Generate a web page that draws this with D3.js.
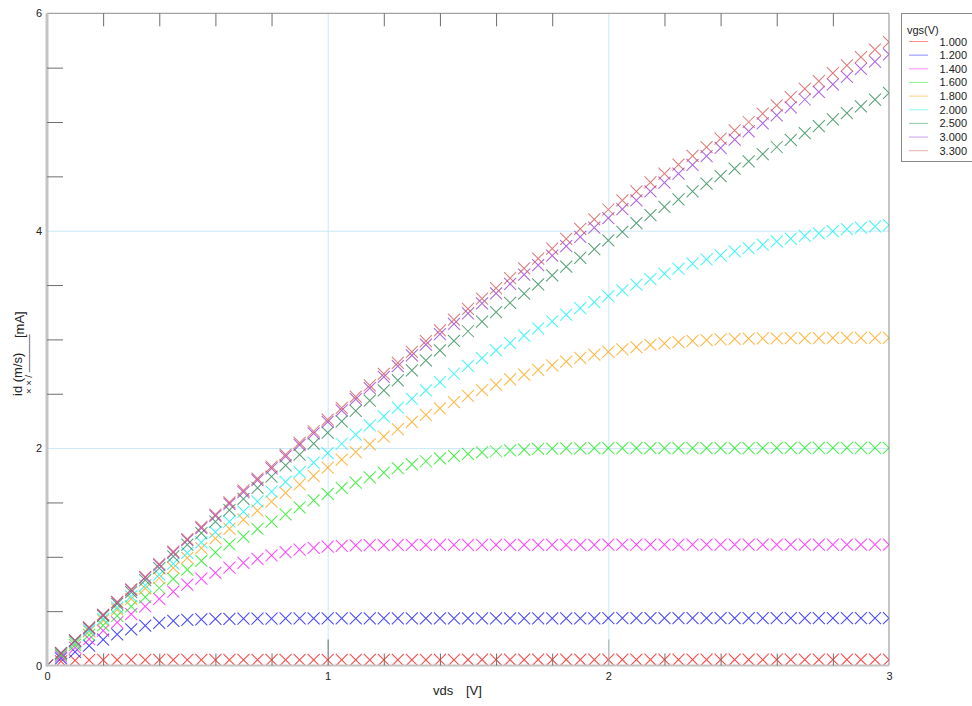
<!DOCTYPE html>
<html>
<head>
<meta charset="utf-8">
<script src="https://cdn.jsdelivr.net/npm/d3@7/dist/d3.min.js"></script>
<style>
  html, body { margin: 0; padding: 0; background: #fff; }
  svg { display: block; font-family: "Liberation Sans", Arial, sans-serif; }
</style>
</head>
<body>
<svg id="chart" width="972" height="706"></svg>
<script>
// Drain-source sweep (V)
const vds = [
  0.00, 0.05, 0.10, 0.15, 0.20, 0.25, 0.30, 0.35, 0.40, 0.45,
  0.50, 0.55, 0.60, 0.65, 0.70, 0.75, 0.80, 0.85, 0.90, 0.95,
  1.00, 1.05, 1.10, 1.15, 1.20, 1.25, 1.30, 1.35, 1.40, 1.45,
  1.50, 1.55, 1.60, 1.65, 1.70, 1.75, 1.80, 1.85, 1.90, 1.95,
  2.00, 2.05, 2.10, 2.15, 2.20, 2.25, 2.30, 2.35, 2.40, 2.45,
  2.50, 2.55, 2.60, 2.65, 2.70, 2.75, 2.80, 2.85, 2.90, 2.95,
  3.00
];

// Gate-source voltages (legend labels)
const vgsLabels = ["1.000", "1.200", "1.400", "1.600", "1.800", "2.000", "2.500", "3.000", "3.300"];

// Drain current per gate voltage (mA)
const id_1000 = [
  0, 0.038, 0.047, 0.050, 0.051, 0.052, 0.052, 0.052, 0.052, 0.052,
  0.052, 0.052, 0.052, 0.052, 0.052, 0.052, 0.052, 0.052, 0.052, 0.052,
  0.052, 0.052, 0.052, 0.052, 0.052, 0.052, 0.052, 0.052, 0.052, 0.052,
  0.053, 0.053, 0.053, 0.053, 0.053, 0.053, 0.053, 0.053, 0.053, 0.053,
  0.053, 0.053, 0.053, 0.053, 0.053, 0.053, 0.053, 0.053, 0.053, 0.053,
  0.053, 0.053, 0.053, 0.053, 0.053, 0.053, 0.053, 0.053, 0.053, 0.053,
  0.053
];
const id_1200 = [
  0, 0.065, 0.125, 0.183, 0.237, 0.287, 0.332, 0.367, 0.393, 0.410,
  0.420, 0.425, 0.428, 0.430, 0.431, 0.432, 0.432, 0.433, 0.433, 0.433,
  0.434, 0.434, 0.434, 0.434, 0.434, 0.434, 0.434, 0.434, 0.434, 0.434,
  0.434, 0.434, 0.434, 0.434, 0.434, 0.434, 0.434, 0.434, 0.434, 0.434,
  0.435, 0.435, 0.435, 0.435, 0.435, 0.435, 0.435, 0.435, 0.435, 0.435,
  0.435, 0.435, 0.435, 0.435, 0.435, 0.435, 0.435, 0.435, 0.435, 0.435,
  0.435
];
const id_1400 = [
  0, 0.083, 0.164, 0.243, 0.320, 0.397, 0.472, 0.543, 0.612, 0.680,
  0.743, 0.800, 0.853, 0.900, 0.944, 0.982, 1.014, 1.042, 1.065, 1.082,
  1.094, 1.101, 1.105, 1.107, 1.108, 1.109, 1.110, 1.110, 1.110, 1.110,
  1.110, 1.110, 1.110, 1.110, 1.110, 1.110, 1.110, 1.110, 1.110, 1.110,
  1.111, 1.111, 1.111, 1.111, 1.111, 1.111, 1.111, 1.111, 1.111, 1.111,
  1.111, 1.111, 1.111, 1.111, 1.111, 1.111, 1.111, 1.111, 1.111, 1.111,
  1.111
];
const id_1600 = [
  0, 0.096, 0.190, 0.281, 0.370, 0.456, 0.543, 0.629, 0.713, 0.797,
  0.882, 0.962, 1.040, 1.114, 1.186, 1.256, 1.324, 1.390, 1.455, 1.518,
  1.580, 1.635, 1.683, 1.731, 1.774, 1.815, 1.850, 1.879, 1.905, 1.928,
  1.946, 1.960, 1.971, 1.980, 1.987, 1.992, 1.995, 1.997, 1.998, 1.999,
  2.000, 2.000, 2.000, 2.000, 2.000, 2.000, 2.000, 2.000, 2.000, 2.000,
  2.000, 2.000, 2.001, 2.001, 2.001, 2.001, 2.002, 2.002, 2.002, 2.002,
  2.002
];
const id_1800 = [
  0, 0.106, 0.211, 0.314, 0.415, 0.515, 0.613, 0.710, 0.805, 0.898,
  0.990, 1.080, 1.169, 1.256, 1.341, 1.425, 1.507, 1.588, 1.667, 1.744,
  1.820, 1.893, 1.963, 2.034, 2.105, 2.175, 2.242, 2.305, 2.366, 2.424,
  2.480, 2.534, 2.585, 2.632, 2.677, 2.720, 2.760, 2.796, 2.830, 2.859,
  2.885, 2.909, 2.930, 2.949, 2.964, 2.976, 2.986, 2.994, 3.000, 3.004,
  3.007, 3.009, 3.010, 3.011, 3.012, 3.012, 3.013, 3.013, 3.014, 3.014,
  3.015
];
const id_2000 = [
  0, 0.109, 0.216, 0.323, 0.428, 0.532, 0.635, 0.737, 0.837, 0.937,
  1.035, 1.132, 1.228, 1.323, 1.416, 1.509, 1.600, 1.690, 1.779, 1.867,
  1.954, 2.040, 2.123, 2.208, 2.291, 2.373, 2.452, 2.531, 2.607, 2.684,
  2.757, 2.828, 2.899, 2.966, 3.035, 3.102, 3.165, 3.227, 3.287, 3.343,
  3.397, 3.451, 3.503, 3.555, 3.604, 3.650, 3.696, 3.736, 3.773, 3.810,
  3.840, 3.871, 3.901, 3.926, 3.953, 3.975, 3.997, 4.015, 4.028, 4.040,
  4.052
];
const id_2500 = [
  0, 0.113, 0.228, 0.342, 0.456, 0.567, 0.676, 0.786, 0.896, 1.005,
  1.113, 1.218, 1.324, 1.429, 1.532, 1.635, 1.738, 1.841, 1.941, 2.042,
  2.142, 2.245, 2.342, 2.436, 2.530, 2.622, 2.716, 2.808, 2.900, 2.987,
  3.075, 3.163, 3.252, 3.337, 3.421, 3.506, 3.589, 3.670, 3.751, 3.830,
  3.910, 3.989, 4.069, 4.144, 4.219, 4.289, 4.361, 4.433, 4.503, 4.571,
  4.638, 4.705, 4.770, 4.835, 4.898, 4.962, 5.024, 5.082, 5.143, 5.206,
  5.267
];
const id_3000 = [
  0, 0.114, 0.230, 0.347, 0.464, 0.580, 0.694, 0.809, 0.924, 1.039,
  1.153, 1.264, 1.376, 1.487, 1.596, 1.705, 1.814, 1.923, 2.029, 2.136,
  2.242, 2.348, 2.450, 2.552, 2.655, 2.754, 2.854, 2.951, 3.048, 3.143,
  3.240, 3.332, 3.424, 3.511, 3.597, 3.684, 3.770, 3.857, 3.944, 4.029,
  4.115, 4.198, 4.280, 4.362, 4.443, 4.524, 4.605, 4.685, 4.762, 4.838,
  4.913, 4.988, 5.062, 5.135, 5.207, 5.277, 5.347, 5.416, 5.488, 5.556,
  5.623
];
const id_3300 = [
  0, 0.115, 0.232, 0.350, 0.468, 0.585, 0.700, 0.816, 0.932, 1.048,
  1.163, 1.275, 1.388, 1.500, 1.610, 1.720, 1.830, 1.940, 2.047, 2.155,
  2.262, 2.370, 2.474, 2.578, 2.683, 2.784, 2.886, 2.985, 3.084, 3.181,
  3.280, 3.376, 3.472, 3.563, 3.653, 3.744, 3.834, 3.925, 4.016, 4.105,
  4.195, 4.279, 4.362, 4.444, 4.526, 4.607, 4.689, 4.769, 4.847, 4.924,
  5.000, 5.077, 5.153, 5.229, 5.304, 5.377, 5.450, 5.522, 5.596, 5.666,
  5.735
];

const seriesValues = [id_1000, id_1200, id_1400, id_1600, id_1800, id_2000, id_2500, id_3000, id_3300];
const seriesColors = ["#ff1a1a", "#1a1aff", "#ff1aff", "#1aee1a", "#ffa514", "#14f4f4", "#2e8b57", "#9a3fd6", "#d45a5a"];

const xTickLabels = [0, 1, 2, 3];
const yTickLabels = [0, 2, 4, 6];

const svg = d3.select("#chart");
const W = 972, H = 706;
const plotLeft = 47, plotRight = 889, plotTop = 13.3, plotBottom = 665.5;

const x = d3.scaleLinear().domain([0, 3]).range([plotLeft, plotRight]);
const y = d3.scaleLinear().domain([0, 6]).range([plotBottom, plotTop]);

svg.append("rect").attr("width", W).attr("height", H).attr("fill", "#fff");

// grid lines at major values
const gridColor = "#c9e7f7";
svg.append("g")
  .attr("transform", `translate(0,${plotBottom})`)
  .call(d3.axisBottom(x).tickValues([1, 2]).tickSize(-(plotBottom - plotTop)).tickFormat(""))
  .call(g => g.select(".domain").remove())
  .call(g => g.selectAll("line").attr("stroke", gridColor).attr("stroke-width", 1));
svg.append("g")
  .attr("transform", `translate(${plotLeft},0)`)
  .call(d3.axisLeft(y).tickValues([2, 4]).tickSize(-(plotRight - plotLeft)).tickFormat(""))
  .call(g => g.select(".domain").remove())
  .call(g => g.selectAll("line").attr("stroke", gridColor).attr("stroke-width", 1));

// markers, clipped to the plot frame
svg.append("clipPath").attr("id", "plotClip")
  .append("rect").attr("x", plotLeft).attr("y", plotTop)
  .attr("width", plotRight - plotLeft).attr("height", plotBottom - plotTop);

const cross = "M-6,-6L6,6M-6,6L6,-6";
const marks = svg.append("g").attr("clip-path", "url(#plotClip)");
seriesValues.forEach((vals, si) => {
  marks.append("g")
    .attr("stroke", seriesColors[si])
    .attr("stroke-opacity", 0.8)
    .attr("stroke-width", 1.05)
    .attr("fill", "none")
    .selectAll("path")
    .data(vals.map((v, i) => [vds[i], v]))
    .join("path")
    .attr("d", cross)
    .attr("transform", d => `translate(${x(d[0])},${y(d[1])})`);
});

// frame
const frame = svg.append("g");
frame.append("line").attr("x1", plotLeft).attr("x2", plotRight).attr("y1", plotTop).attr("y2", plotTop)
  .attr("stroke", "#8a8a8a").attr("stroke-width", 1);
frame.append("line").attr("x1", plotRight).attr("x2", plotRight).attr("y1", plotTop).attr("y2", plotBottom)
  .attr("stroke", "#8a8a8a").attr("stroke-width", 1);
frame.append("line").attr("x1", plotLeft - 1).attr("x2", plotRight).attr("y1", plotBottom).attr("y2", plotBottom)
  .attr("stroke", "#c4c4c4").attr("stroke-width", 2);
frame.append("line").attr("x1", plotLeft).attr("x2", plotLeft).attr("y1", plotTop).attr("y2", plotBottom + 1)
  .attr("stroke", "#c4c4c4").attr("stroke-width", 3);

const tickColor = "#6e6e6e";
const minorX = [0.2, 0.4, 0.6, 0.8, 1.2, 1.4, 1.6, 1.8, 2.2, 2.4, 2.6, 2.8];
const minorY = [0.5, 1, 1.5, 2.5, 3, 3.5, 4.5, 5, 5.5];

// inward ticks
svg.append("g").attr("transform", `translate(0,${plotBottom})`)
  .call(d3.axisTop(x).tickValues(minorX).tickSize(12).tickFormat(""))
  .call(g => g.select(".domain").remove())
  .call(g => g.selectAll("line").attr("stroke", tickColor));
svg.append("g").attr("transform", `translate(0,${plotBottom})`)
  .call(d3.axisTop(x).tickValues([1]).tickSize(26).tickFormat(""))
  .call(g => g.select(".domain").remove())
  .call(g => g.selectAll("line").attr("stroke", tickColor));
svg.append("g").attr("transform", `translate(0,${plotBottom})`)
  .call(d3.axisTop(x).tickValues([2]).tickSize(26).tickFormat(""))
  .call(g => g.select(".domain").remove())
  .call(g => g.selectAll("line").attr("stroke", "#a8a8a8"));
svg.append("g").attr("transform", `translate(0,${plotTop})`)
  .call(d3.axisBottom(x).tickValues(minorX).tickSize(13).tickFormat(""))
  .call(g => g.select(".domain").remove())
  .call(g => g.selectAll("line").attr("stroke", tickColor));
svg.append("g").attr("transform", `translate(${plotLeft},0)`)
  .call(d3.axisRight(y).tickValues(minorY).tickSize(16).tickFormat(""))
  .call(g => g.select(".domain").remove())
  .call(g => g.selectAll("line").attr("stroke", tickColor));

// tick labels
svg.append("g").attr("transform", `translate(${plotLeft},0)`)
  .call(d3.axisLeft(y).tickValues(yTickLabels).tickSize(0).tickPadding(5).tickFormat(d3.format("d")))
  .call(g => g.select(".domain").remove())
  .call(g => g.selectAll("text").attr("font-size", 11).attr("fill", "#222")
    .attr("font-family", "'Liberation Sans', Arial, sans-serif"));
svg.append("g").attr("transform", `translate(0,${plotBottom})`)
  .call(d3.axisBottom(x).tickValues(xTickLabels).tickSize(0).tickPadding(7).tickFormat(d3.format("d")))
  .call(g => g.select(".domain").remove())
  .call(g => g.selectAll("text").attr("font-size", 11).attr("fill", "#222")
    .attr("font-family", "'Liberation Sans', Arial, sans-serif"));

// axis titles
const xt = svg.append("text").attr("y", 695).attr("font-size", 13).attr("fill", "#222");
xt.append("tspan").attr("x", 433).text("vds");
xt.append("tspan").attr("x", 466).text("[V]");

const yt = svg.append("g").attr("transform", "translate(22,396) rotate(-90)").attr("fill", "#222");
yt.append("text").attr("x", 0).attr("y", 0).attr("font-size", 13).text("id (m/s)");
yt.append("text").attr("x", 2).attr("y", 10).attr("font-size", 9.5).text("× × / ————");
yt.append("text").attr("x", 58).attr("y", 2).attr("font-size", 13).text("[mA]");

// legend
const lg = svg.append("g");
lg.append("rect").attr("x", 901.5).attr("y", 13.5).attr("width", 80).attr("height", 148)
  .attr("fill", "#fff").attr("stroke", "#8a8a8a").attr("stroke-width", 1);
lg.append("text").attr("x", 907).attr("y", 34).attr("font-size", 11).attr("fill", "#222").text("vgs(V)");
vgsLabels.forEach((lab, i) => {
  const cy = 41.5 + i * 13.65;
  lg.append("line").attr("x1", 909).attr("x2", 928).attr("y1", cy).attr("y2", cy)
    .attr("stroke", seriesColors[i]).attr("stroke-opacity", 0.5).attr("stroke-width", 1);
  lg.append("text").attr("x", 967).attr("y", cy + 4).attr("text-anchor", "end")
    .attr("font-size", 11).attr("fill", "#222").text(lab);
});
</script>
</body>
</html>
